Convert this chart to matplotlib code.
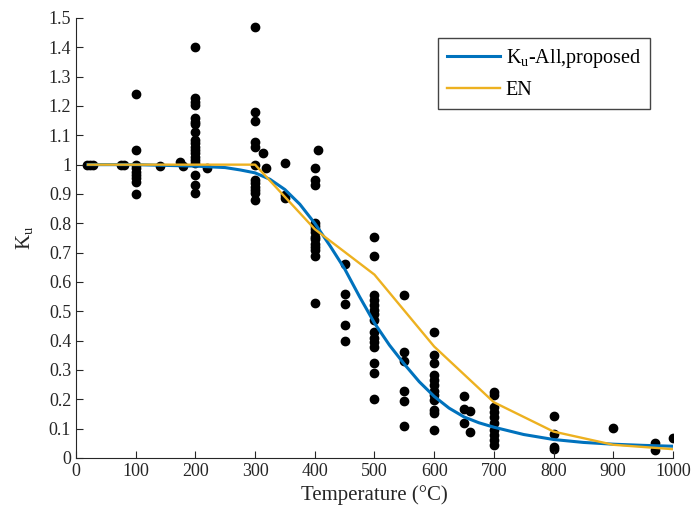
import numpy as np
import matplotlib
matplotlib.use("Agg")
import matplotlib.pyplot as plt
from matplotlib.ticker import FormatStrFormatter

plt.rcParams['font.family'] = ['Liberation Serif', 'DejaVu Serif']
plt.rcParams['mathtext.fontset'] = 'custom'
plt.rcParams['mathtext.rm'] = 'Liberation Serif'
plt.rcParams['mathtext.it'] = 'Liberation Serif:italic'

# test data (temperature, Ku)
test_T = [18, 23, 28, 75, 80,
          100, 100, 100, 100, 100, 100, 100, 100, 100,
          140, 175, 180,
          200, 200, 200, 200, 200, 200, 200, 200, 200, 200, 200, 200, 200, 200, 200, 200, 200, 200, 200,
          220,
          300, 300, 300, 300, 300, 300, 300, 300, 300, 300, 300, 300,
          313, 318,
          350, 350, 350,
          400, 400, 400, 400, 400, 400, 400, 400, 400, 400, 400, 400, 400, 400,
          405,
          450, 450, 450, 450, 450,
          500, 500, 500, 500, 500, 500, 500, 500, 500, 500, 500, 500, 500, 500, 500,
          550, 550, 550, 550, 550, 550,
          600, 600, 600, 600, 600, 600, 600, 600, 600, 600, 600, 600,
          650, 650, 650, 660, 660,
          700, 700, 700, 700, 700, 700, 700, 700, 700, 700,
          800, 800, 800, 800,
          900, 970, 970, 1000]
test_K = [1.0, 1.0, 1.0, 1.0, 1.0,
          1.24, 1.05, 1.0, 0.99, 0.975, 0.965, 0.955, 0.94, 0.90,
          0.995, 1.01, 0.995,
          1.40, 1.227, 1.214, 1.203, 1.16, 1.145, 1.14, 1.11, 1.084, 1.074, 1.06, 1.05, 1.04, 1.026, 1.016, 1.006, 0.965, 0.93, 0.903,
          0.99,
          1.47, 1.18, 1.15, 1.077, 1.06, 1.0, 0.948, 0.938, 0.924, 0.914, 0.903, 0.88,
          1.04, 0.99,
          1.005, 0.897, 0.886,
          0.99, 0.948, 0.93, 0.80, 0.79, 0.78, 0.77, 0.755, 0.745, 0.73, 0.72, 0.71, 0.69, 0.53,
          1.05,
          0.66, 0.56, 0.525, 0.453, 0.40,
          0.754, 0.69, 0.556, 0.54, 0.52, 0.505, 0.49, 0.47, 0.43, 0.41, 0.395, 0.38, 0.325, 0.29, 0.20,
          0.557, 0.36, 0.33, 0.228, 0.195, 0.11,
          0.43, 0.35, 0.325, 0.283, 0.266, 0.25, 0.23, 0.215, 0.198, 0.164, 0.153, 0.095,
          0.21, 0.167, 0.119, 0.16, 0.088,
          0.225, 0.215, 0.174, 0.157, 0.14, 0.119, 0.095, 0.078, 0.061, 0.044,
          0.143, 0.082, 0.038, 0.03,
          0.102, 0.05, 0.027, 0.068]

# proposed curve
prop_T = [20, 100, 200, 250, 275, 300, 325, 350, 375, 400, 425, 450, 475, 500, 525, 550,
          575, 600, 625, 650, 675, 700, 750, 800, 850, 900, 950, 1000]
prop_K = [1.0, 1.0, 0.995, 0.99, 0.982, 0.972, 0.95, 0.915, 0.865, 0.80, 0.725, 0.645, 0.55, 0.46,
          0.385, 0.32, 0.26, 0.21, 0.17, 0.14, 0.12, 0.105, 0.08, 0.063, 0.053, 0.047, 0.043, 0.04]

# EN curve
en_T = [20, 100, 200, 300, 400, 500, 600, 700, 800, 900, 1000]
en_K = [1.0, 1.0, 1.0, 1.0, 0.78, 0.625, 0.38, 0.19, 0.09, 0.045, 0.03]

fig = plt.figure(figsize=(6.93, 5.14), dpi=100)
ax = fig.add_axes([0.1097, 0.109, 0.8613, 0.856])

ax.plot(test_T, test_K, 'o', color='k', markersize=6, zorder=1)
ax.plot(prop_T, prop_K, '-', color='#0072BD', linewidth=2.2, label=r'K$_\mathrm{u}$-All,proposed', zorder=2)
ax.plot(en_T, en_K, '-', color='#EDB120', linewidth=1.7, label='EN', zorder=3)

ax.set_xlim(0, 1000)
ax.set_ylim(0, 1.5)
ax.set_xticks(np.arange(0, 1001, 100))
ax.set_yticks(np.arange(0, 1.51, 0.1))
ax.yaxis.set_major_formatter(FormatStrFormatter('%g'))
ax.tick_params(direction='in', length=5, labelsize=13, colors='#262626')
for s in ['top', 'right']:
    ax.spines[s].set_visible(False)
for s in ['left', 'bottom']:
    ax.spines[s].set_color('#262626')

ax.set_xlabel('Temperature (°C)', fontsize=15, color='#262626')
ax.set_ylabel(r'K$_\mathrm{u}$', fontsize=15, color='#262626', labelpad=10)

leg = ax.legend(loc='upper right', bbox_to_anchor=(0.9615, 0.9545), borderaxespad=0, fontsize=14.5,
                fancybox=False, framealpha=1, edgecolor='#444444', handlelength=2.6,
                handletextpad=0.3, labelspacing=0.55, borderpad=0.45)
leg.get_frame().set_linewidth(1.0)

fig.savefig('out.png', dpi=100)
